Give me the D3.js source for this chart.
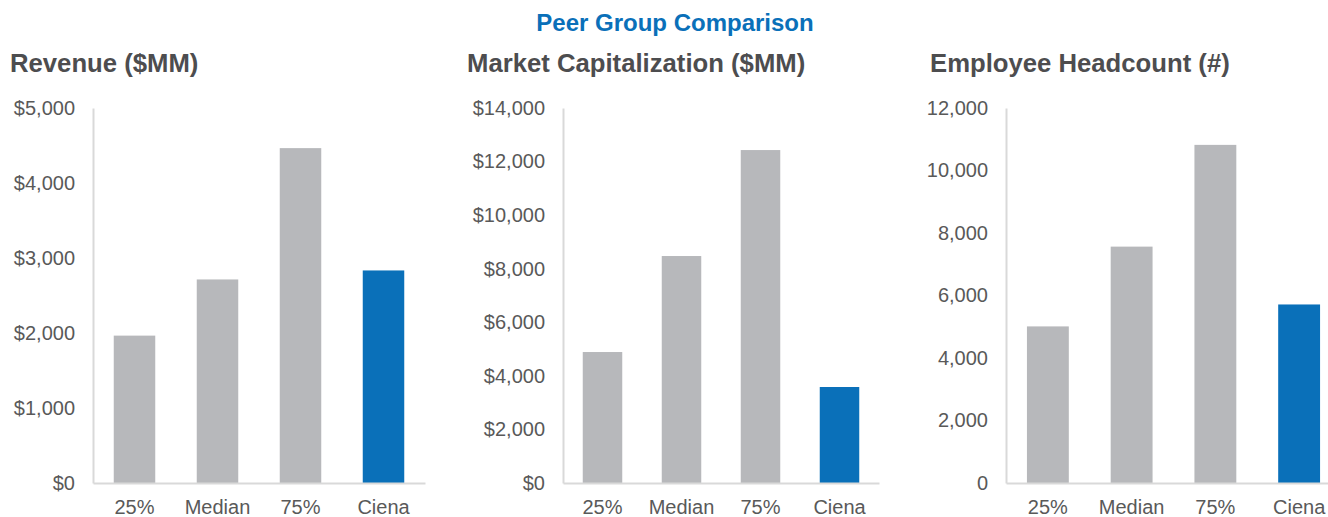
<!DOCTYPE html>
<html lang="en">
<head>
  <meta charset="UTF-8">
  <title>Peer Group Comparison</title>
  <script src="https://d3js.org/d3.v7.min.js"></script>
  <style>
    body, html {
      margin: 0;
      background: #fff;
    }
    svg text { font-family: 'Liberation Sans', Arial, sans-serif; }
    .tick text { fill: #595959; font-size: 20px; }
    .panel-title { fill: #4d4d4f; font-size: 25.7px; font-weight: bold; }
  </style>
</head>
<body>
<svg id="chart" width="1328" height="517"></svg>
<script>
  const categories = ["25%", "Median", "75%", "Ciena"];
  const revenue = [1965, 2714, 4465, 2834];
  const marketCap = [4890, 8474, 12430, 3584];
  const headcount = [5011, 7564, 10820, 5713];

  const revenueTicks = [0, 1000, 2000, 3000, 4000, 5000];
  const marketCapTicks = [0, 2000, 4000, 6000, 8000, 10000, 12000, 14000];
  const headcountTicks = [0, 2000, 4000, 6000, 8000, 10000, 12000];

  const svg = d3.select("#chart");

  svg.append("text")
    .attr("x", 675).attr("y", 31)
    .attr("text-anchor", "middle")
    .style("font-size", "24px").style("font-weight", "bold")
    .style("fill", "#0a70b9")
    .text("Peer Group Comparison");

  const panels = [
    { title: "Revenue ($MM)", values: revenue, ticks: revenueTicks, max: 5000,
      fmt: d => "$" + d3.format(",")(d), left: 93, right: 425, titleX: 10 },
    { title: "Market Capitalization ($MM)", values: marketCap, ticks: marketCapTicks, max: 14000,
      fmt: d => "$" + d3.format(",")(d), left: 563, right: 879, titleX: 467 },
    { title: "Employee Headcount (#)", values: headcount, ticks: headcountTicks, max: 12000,
      fmt: d3.format(","), left: 1006, right: 1341, titleX: 930 }
  ];

  const plotTop = 108, plotBottom = 483;

  panels.forEach(p => {
    const x = d3.scaleBand().domain(categories).range([p.left, p.right]).paddingInner(0.5).paddingOuter(0.25);
    const y = d3.scaleLinear().domain([0, p.max]).range([plotBottom, plotTop]);

    svg.append("text")
      .attr("class", "panel-title")
      .attr("x", p.titleX).attr("y", 72)
      .text(p.title);

    svg.selectAll(null)
      .data(p.values)
      .join("rect")
      .attr("x", (d, i) => x(categories[i]))
      .attr("width", x.bandwidth())
      .attr("y", d => y(d))
      .attr("height", d => plotBottom - y(d))
      .attr("fill", (d, i) => categories[i] === "Ciena" ? "#0a70b9" : "#b7b8bb");

    const yAxis = svg.append("g")
      .attr("transform", `translate(${p.left},0)`)
      .call(d3.axisLeft(y).tickValues(p.ticks).tickFormat(p.fmt).tickSize(0).tickPadding(18))
      .attr("font-family", null).attr("font-size", null);
    yAxis.select(".domain").attr("stroke", "#d9d9d9").attr("stroke-width", 2);

    const xAxis = svg.append("g")
      .attr("transform", `translate(0,${plotBottom})`)
      .call(d3.axisBottom(x).tickSize(0).tickPadding(17))
      .attr("font-family", null).attr("font-size", null);
    xAxis.select(".domain").attr("stroke", "#d9d9d9").attr("stroke-width", 2);
  });
</script>
</body>
</html>
